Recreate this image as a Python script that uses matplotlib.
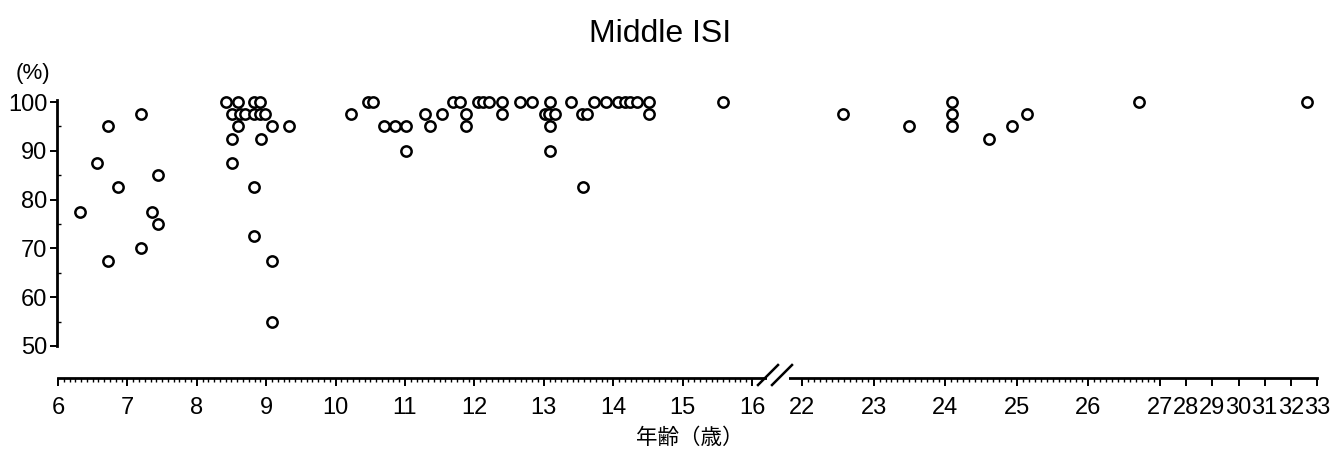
import matplotlib

matplotlib.use("Agg")

import matplotlib.pyplot as plt
import matplotlib.transforms as mtransforms
import numpy as np

# ages (years) and Middle ISI scores (%)
ages = [
    6.32, 6.56, 6.72, 6.72, 6.86, 7.20, 7.20, 7.35, 7.44, 7.44,
    8.42, 8.51, 8.51, 8.51, 8.59, 8.59, 8.62, 8.69, 8.82, 8.82,
    8.82, 8.82, 8.91, 8.91, 8.98, 8.92, 9.08, 9.08, 9.08, 9.33,
    10.22, 10.47, 10.54, 10.70, 10.86, 11.01, 11.01, 11.29, 11.36, 11.53,
    11.69, 11.79, 11.88, 11.88, 12.05, 12.12, 12.21, 12.40, 12.40, 12.66,
    12.83, 13.09, 13.02, 13.07, 13.16, 13.09, 13.09, 13.39, 13.55, 13.62,
    13.56, 13.72, 13.90, 14.07, 14.17, 14.24, 14.34, 14.52, 14.52, 15.58,
    22.57, 23.49, 24.09, 24.09, 24.09, 24.61, 24.93, 25.14, 26.71, 32.61,
]
scores = [
    77.5, 87.5, 95, 67.5, 82.5, 97.5, 70, 77.5, 85, 75,
    100, 97.5, 92.5, 87.5, 100, 95, 97.5, 97.5, 100, 97.5,
    82.5, 72.5, 100, 97.5, 97.5, 92.5, 95, 67.5, 55, 95,
    97.5, 100, 100, 95, 95, 95, 90, 97.5, 95, 97.5,
    100, 100, 97.5, 95, 100, 100, 100, 100, 97.5, 100,
    100, 100, 97.5, 97.5, 97.5, 95, 90, 100, 97.5, 97.5,
    82.5, 100, 100, 100, 100, 100, 100, 100, 97.5, 100,
    97.5, 95, 100, 97.5, 95, 92.5, 95, 97.5, 100, 100,
]

x_ticks = [6, 7, 8, 9, 10, 11, 12, 13, 14, 15, 16,
           22, 23, 24, 25, 26, 27, 28, 29, 30, 31, 32, 33]
y_ticks = [50, 60, 70, 80, 90, 100]

# broken / compressed age axis: age -> horizontal pixel position
AXIS_AGE = [5, 6, 16, 22, 27, 33, 34]
AXIS_PX = [-11.4, 58, 752, 802, 1160, 1317, 1343.2]


def age_to_px(a):
    return np.interp(a, AXIS_AGE, AXIS_PX)


def px_to_age(p):
    return np.interp(p, AXIS_PX, AXIS_AGE)


TICK_FONT = ["Liberation Sans Narrow", "Liberation Sans", "DejaVu Sans"]

fig = plt.figure(figsize=(13.38, 4.54), dpi=100)
ax = fig.add_axes([57 / 1338, 1 - 378 / 454, (1320 - 57) / 1338, 280 / 454])
ax.set_xscale("function", functions=(age_to_px, px_to_age))
ax.set_xlim(px_to_age(57), px_to_age(1320))
ax.set_ylim(50 - 32 / 4.87, 100 + 4 / 4.87)

ax.scatter(ages, scores, s=55, facecolors="white", edgecolors="black",
           linewidths=1.8, zorder=3, clip_on=False)

for side in ("top", "right"):
    ax.spines[side].set_visible(False)
ax.spines["left"].set_bounds(50, 100.4)
ax.spines["left"].set_linewidth(2)
ax.spines["bottom"].set_bounds(6, 33)
ax.spines["bottom"].set_linewidth(2)

ax.set_yticks(y_ticks)
ax.set_yticks([55, 65, 75, 85, 95], minor=True)
ax.set_xticks(x_ticks)
minor_x = [m for m in np.arange(6, 27, 1 / 12)
           if (m < 16 or m > 22) and abs(m - round(m)) > 1e-6]
ax.set_xticks(minor_x, minor=True)
ax.set_xticklabels([str(t) for t in x_ticks], family=TICK_FONT, fontsize=17)
ax.set_yticklabels([str(t) for t in y_ticks], family=TICK_FONT, fontsize=17)

ax.tick_params(axis="x", which="major", direction="out", length=6, width=1.4,
               pad=8, color="black")
ax.tick_params(axis="x", which="minor", direction="out", length=3, width=1)
ax.tick_params(axis="y", which="major", direction="out", length=5, width=1.4,
               pad=2)
ax.tick_params(axis="y", which="minor", direction="in", length=3, width=1)

# axis break between 16 and 22
trans = mtransforms.blended_transform_factory(ax.transData, ax.transAxes)
ax.plot([px_to_age(767), px_to_age(789)], [0, 0], color="white", lw=4,
        transform=trans, clip_on=False, zorder=4, solid_capstyle="butt")
for x0 in (758, 772):
    ax.plot([px_to_age(x0), px_to_age(x0 + 20)], [-7 / 280, 13 / 280],
            color="black", lw=1.8, transform=trans, clip_on=False, zorder=5)

fig.text(660 / 1338, 1 - 34 / 454, "Middle ISI", ha="center", va="center",
         fontsize=23, family=["Liberation Sans", "DejaVu Sans"])
fig.text(33 / 1338, 1 - 74 / 454, "(%)", ha="center", va="center",
         fontsize=16, family=TICK_FONT)
fig.text(690 / 1338, 1 - 438 / 454, "年齢（歳）", ha="center", va="center",
         fontsize=15.5, family=["Noto Sans CJK JP", "DejaVu Sans"])

fig.savefig("out.png", dpi=100)
